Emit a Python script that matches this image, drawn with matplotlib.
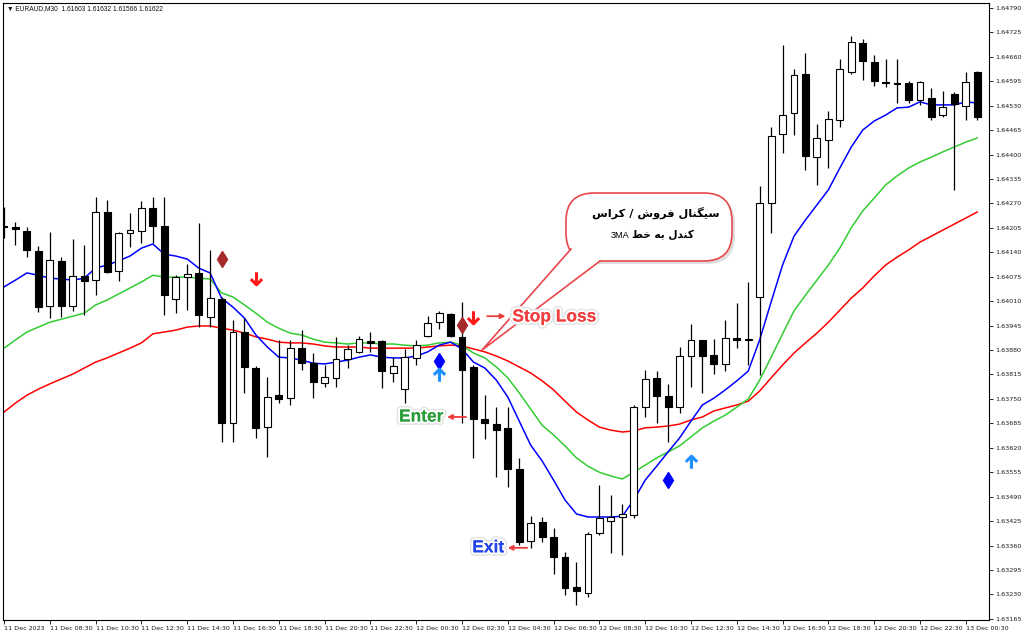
import numpy as np
import matplotlib
matplotlib.use("Agg")
import matplotlib.pyplot as plt
from matplotlib.patches import FancyBboxPatch, Polygon
from matplotlib.path import Path
import matplotlib.patheffects as pe

#%%==============================================================================
# Data (one row per candle, oldest first)

open_ = [1.64210, 1.64207, 1.64196, 1.64143, 1.63997, 1.64117, 1.63997, 1.64077, 1.64066, 1.64247,
         1.64090, 1.64191, 1.64196, 1.64258, 1.64210, 1.64016, 1.64074, 1.64085, 1.63968, 1.64016,
         1.63686, 1.63928, 1.63832, 1.63675, 1.63760, 1.63752, 1.63885, 1.63845, 1.63792, 1.63806,
         1.63856, 1.63875, 1.63904, 1.63904, 1.63819, 1.63776, 1.63859, 1.63917, 1.63954, 1.63976,
         1.63915, 1.63835, 1.63696, 1.63683, 1.63673, 1.63563, 1.63372, 1.63422, 1.63383, 1.63329,
         1.63250, 1.63234, 1.63393, 1.63425, 1.63436, 1.63441, 1.63728, 1.63806, 1.63758, 1.63728,
         1.63864, 1.63907, 1.63867, 1.63843, 1.63912, 1.63909, 1.64021, 1.64271, 1.64455, 1.64510,
         1.64614, 1.64393, 1.64439, 1.64492, 1.64619, 1.64697, 1.64646, 1.64593, 1.64590, 1.64590,
         1.64545, 1.64550, 1.64505, 1.64561, 1.64529, 1.64619]
high = [1.64260, 1.64220, 1.64207, 1.64157, 1.64194, 1.64127, 1.64175, 1.64159, 1.64287, 1.64279,
        1.64194, 1.64244, 1.64276, 1.64287, 1.64287, 1.64079, 1.64109, 1.64218, 1.64146, 1.64021,
        1.63960, 1.63965, 1.63837, 1.63808, 1.63907, 1.63907, 1.63933, 1.63872, 1.63840, 1.63915,
        1.63893, 1.63917, 1.63928, 1.63907, 1.63861, 1.63883, 1.63907, 1.63970, 1.63984, 1.63978,
        1.64008, 1.63840, 1.63760, 1.63728, 1.63728, 1.63593, 1.63438, 1.63436, 1.63406, 1.63343,
        1.63316, 1.63396, 1.63521, 1.63494, 1.63470, 1.63734, 1.63827, 1.63824, 1.63790, 1.63888,
        1.63949, 1.63907, 1.63909, 1.63960, 1.64005, 1.64061, 1.64316, 1.64473, 1.64691, 1.64627,
        1.64670, 1.64481, 1.64516, 1.64654, 1.64715, 1.64707, 1.64665, 1.64654, 1.64654, 1.64595,
        1.64595, 1.64577, 1.64569, 1.64566, 1.64619, 1.64622]
low = [1.64178, 1.64159, 1.64127, 1.63981, 1.63965, 1.63968, 1.63984, 1.63973, 1.64026, 1.64085,
       1.64063, 1.64154, 1.64165, 1.64165, 1.63973, 1.63978, 1.63986, 1.63941, 1.63941, 1.63635,
       1.63635, 1.63766, 1.63646, 1.63595, 1.63739, 1.63734, 1.63827, 1.63752, 1.63782, 1.63782,
       1.63832, 1.63872, 1.63875, 1.63779, 1.63795, 1.63739, 1.63840, 1.63915, 1.63936, 1.63915,
       1.63686, 1.63593, 1.63643, 1.63542, 1.63516, 1.63361, 1.63353, 1.63369, 1.63284, 1.63228,
       1.63202, 1.63223, 1.63388, 1.63340, 1.63335, 1.63433, 1.63702, 1.63686, 1.63635, 1.63712,
       1.63782, 1.63766, 1.63816, 1.63824, 1.63885, 1.63840, 1.63813, 1.64191, 1.64404, 1.64452,
       1.64359, 1.64319, 1.64364, 1.64473, 1.64614, 1.64598, 1.64582, 1.64580, 1.64537, 1.64537,
       1.64532, 1.64492, 1.64500, 1.64306, 1.64492, 1.64492]
close = [1.64207, 1.64202, 1.64146, 1.63994, 1.64119, 1.63997, 1.64077, 1.64063, 1.64247, 1.64087,
         1.64191, 1.64199, 1.64258, 1.64210, 1.64026, 1.64074, 1.64082, 1.63973, 1.64018, 1.63686,
         1.63928, 1.63835, 1.63673, 1.63755, 1.63750, 1.63885, 1.63845, 1.63795, 1.63808, 1.63856,
         1.63883, 1.63909, 1.63899, 1.63824, 1.63837, 1.63861, 1.63893, 1.63952, 1.63978, 1.63917,
         1.63827, 1.63696, 1.63686, 1.63667, 1.63563, 1.63369, 1.63420, 1.63383, 1.63329, 1.63247,
         1.63239, 1.63391, 1.63433, 1.63436, 1.63444, 1.63728, 1.63803, 1.63758, 1.63728, 1.63864,
         1.63907, 1.63864, 1.63843, 1.63912, 1.63907, 1.63907, 1.64271, 1.64449, 1.64505, 1.64611,
         1.64396, 1.64444, 1.64494, 1.64627, 1.64699, 1.64649, 1.64595, 1.64590, 1.64588, 1.64545,
         1.64593, 1.64500, 1.64526, 1.64534, 1.64593, 1.64500]

ma_fast = [1.64048, 1.64066, 1.64085, 1.64079, 1.64071, 1.64069, 1.64066, 1.64071, 1.64098, 1.64106,
           1.64117, 1.64130, 1.64151, 1.64162, 1.64135, 1.64130, 1.64122, 1.64098, 1.64085, 1.64018,
           1.63994, 1.63965, 1.63920, 1.63888, 1.63861, 1.63859, 1.63853, 1.63845, 1.63843, 1.63848,
           1.63853, 1.63861, 1.63867, 1.63861, 1.63859, 1.63859, 1.63864, 1.63875, 1.63893, 1.63901,
           1.63883, 1.63848, 1.63832, 1.63800, 1.63755, 1.63691, 1.63627, 1.63585, 1.63534, 1.63481,
           1.63444, 1.63436, 1.63436, 1.63436, 1.63438, 1.63481, 1.63534, 1.63571, 1.63609, 1.63646,
           1.63691, 1.63734, 1.63752, 1.63774, 1.63798, 1.63824, 1.63907, 1.64008, 1.64106, 1.64183,
           1.64226, 1.64266, 1.64306, 1.64364, 1.64420, 1.64465, 1.64489, 1.64505, 1.64524, 1.64526,
           1.64540, 1.64532, 1.64532, 1.64532, 1.64540, 1.64537]
ma_mid = [1.63885, 1.63907, 1.63928, 1.63941, 1.63954, 1.63962, 1.63970, 1.63978, 1.64000, 1.64013,
          1.64029, 1.64045, 1.64061, 1.64079, 1.64074, 1.64074, 1.64074, 1.64071, 1.64069, 1.64032,
          1.64021, 1.64000, 1.63978, 1.63954, 1.63938, 1.63925, 1.63920, 1.63909, 1.63901, 1.63899,
          1.63896, 1.63899, 1.63899, 1.63896, 1.63896, 1.63893, 1.63891, 1.63893, 1.63899, 1.63901,
          1.63893, 1.63872, 1.63859, 1.63835, 1.63806, 1.63766, 1.63723, 1.63680, 1.63654, 1.63625,
          1.63593, 1.63571, 1.63555, 1.63545, 1.63537, 1.63555, 1.63574, 1.63593, 1.63609, 1.63625,
          1.63649, 1.63673, 1.63691, 1.63707, 1.63728, 1.63750, 1.63800, 1.63861, 1.63923, 1.63984,
          1.64026, 1.64066, 1.64106, 1.64151, 1.64205, 1.64250, 1.64284, 1.64319, 1.64343, 1.64364,
          1.64380, 1.64393, 1.64407, 1.64420, 1.64433, 1.64444]
ma_slow = [1.63715, 1.63739, 1.63760, 1.63776, 1.63790, 1.63803, 1.63816, 1.63832, 1.63848, 1.63859,
           1.63872, 1.63885, 1.63899, 1.63923, 1.63928, 1.63933, 1.63941, 1.63944, 1.63944, 1.63938,
           1.63933, 1.63925, 1.63915, 1.63909, 1.63901, 1.63899, 1.63899, 1.63896, 1.63891, 1.63888,
           1.63888, 1.63888, 1.63885, 1.63885, 1.63885, 1.63885, 1.63885, 1.63888, 1.63891, 1.63893,
           1.63891, 1.63883, 1.63875, 1.63864, 1.63851, 1.63835, 1.63819, 1.63798, 1.63774, 1.63744,
           1.63715, 1.63694, 1.63675, 1.63667, 1.63662, 1.63665, 1.63673, 1.63675, 1.63678, 1.63683,
           1.63694, 1.63702, 1.63718, 1.63726, 1.63734, 1.63744, 1.63771, 1.63806, 1.63840, 1.63872,
           1.63899, 1.63925, 1.63954, 1.63986, 1.64018, 1.64045, 1.64077, 1.64106, 1.64127, 1.64146,
           1.64167, 1.64183, 1.64199, 1.64215, 1.64231, 1.64247]

# signal markers (candle index, price)
sell_dia_x = [19, 40]
sell_dia_y = [1.64122, 1.63947]
sell_arr_x = [22, 41]
sell_arr_y = [1.64072, 1.63968]
buy_dia_x = [38, 58]
buy_dia_y = [1.63851, 1.63535]
buy_arr_x = [38, 60]
buy_arr_y = [1.63814, 1.63582]

date_labels = ["11 Dec 2023", "11 Dec 08:30", "11 Dec 10:30", "11 Dec 12:30", "11 Dec 14:30",
               "11 Dec 16:30", "11 Dec 18:30", "11 Dec 20:30", "11 Dec 22:30", "12 Dec 00:30",
               "12 Dec 02:30", "12 Dec 04:30", "12 Dec 06:30", "12 Dec 08:30", "12 Dec 10:30",
               "12 Dec 12:30", "12 Dec 14:30", "12 Dec 16:30", "12 Dec 18:30", "12 Dec 20:30",
               "12 Dec 22:30", "13 Dec 00:30"]
price_ticks = [1.63165 + 0.00065 * k for k in range(26)]

header = "\u25BC EURAUD,M30  1.61603 1.61632 1.61566 1.61622"
callout_l1 = "سیگنال فروش / کراس"
callout_l2 = "کندل به خط"
callout_tag = "3MA"

#%%==============================================================================
# tiny persian shaper (matplotlib does no arabic shaping / bidi)

FORMS = {  # isol, fina, init, medi
    'ا': (0xFE8D, 0xFE8E, None, None), 'د': (0xFEA9, 0xFEAA, None, None),
    'ر': (0xFEAD, 0xFEAE, None, None), 'و': (0xFEED, 0xFEEE, None, None),
    'ب': (0xFE8F, 0xFE90, 0xFE91, 0xFE92), 'خ': (0xFEA5, 0xFEA6, 0xFEA7, 0xFEA8),
    'س': (0xFEB1, 0xFEB2, 0xFEB3, 0xFEB4), 'ش': (0xFEB5, 0xFEB6, 0xFEB7, 0xFEB8),
    'ط': (0xFEC1, 0xFEC2, 0xFEC3, 0xFEC4), 'ف': (0xFED1, 0xFED2, 0xFED3, 0xFED4),
    'ل': (0xFEDD, 0xFEDE, 0xFEDF, 0xFEE0), 'ن': (0xFEE5, 0xFEE6, 0xFEE7, 0xFEE8),
    'ه': (0xFEE9, 0xFEEA, 0xFEEB, 0xFEEC), 'ک': (0xFB8E, 0xFB8F, 0xFB90, 0xFB91),
    'گ': (0xFB92, 0xFB93, 0xFB94, 0xFB95), 'ی': (0xFBFC, 0xFBFD, 0xFBFE, 0xFBFF),
}


def shape_fa(txt):
    out = []
    for k, ch in enumerate(txt):
        if ch not in FORMS:
            out.append(ch)
            continue
        prv = txt[k - 1] if k > 0 else ''
        nxt = txt[k + 1] if k + 1 < len(txt) else ''
        jp = prv in FORMS and FORMS[prv][2] is not None
        jn = FORMS[ch][2] is not None and nxt in FORMS
        form = 3 if (jp and jn) else 1 if jp else 2 if jn else 0
        out.append(chr(FORMS[ch][form]))
    return ''.join(reversed(out))


#%%==============================================================================
# Figure

W, H = 1024, 639
fig = plt.figure(figsize=(W / 100, H / 100), dpi=100, facecolor='white')
ax = fig.add_axes([3 / W, 1 - 620 / H, 986 / W, 617 / H])
ax.set_facecolor('white')

n = len(open_)
x = np.arange(n)
o = np.array(open_); c = np.array(close)
up = c >= o

ax.plot(x, ma_slow, color='#ff0000', lw=1.1, zorder=2)
ax.plot(x, ma_mid, color='#33cc33', lw=1.1, zorder=2)
ax.plot(x, ma_fast, color='#0000ff', lw=1.1, zorder=2)

ax.vlines(x, low, high, color='black', lw=0.9, zorder=3)
bw = 0.6
ax.bar(x[up], (c - o)[up], bottom=o[up], width=bw, facecolor='white', edgecolor='black', lw=0.8, zorder=4)
ax.bar(x[~up], (o - c)[~up], bottom=c[~up], width=bw, facecolor='black', edgecolor='black', lw=0.8, zorder=4)

# arrow markers (wingdings-like)
down_arrow = Path([(0, 1), (0, -1), (-0.9, -0.1), (0, -1), (0.9, -0.1)],
                  [Path.MOVETO, Path.LINETO, Path.MOVETO, Path.LINETO, Path.LINETO])
up_arrow = Path([(0, -1), (0, 1), (-0.9, 0.1), (0, 1), (0.9, 0.1)],
                [Path.MOVETO, Path.LINETO, Path.MOVETO, Path.LINETO, Path.LINETO])

ax.plot(sell_dia_x, sell_dia_y, ls='none', marker='d', ms=8, color='#a52a2a', zorder=5)
ax.plot(sell_arr_x, sell_arr_y, ls='none', marker=down_arrow, ms=9, mew=2.2, mfc='none', color='#ff1a1a', zorder=5)
ax.plot(buy_dia_x, buy_dia_y, ls='none', marker='d', ms=8, color='#0000ff', zorder=5)
ax.plot(buy_arr_x, buy_arr_y, ls='none', marker=up_arrow, ms=9, mew=2.2, mfc='none', color='#1e90ff', zorder=5)

# axes styling, MT4 look
ax.set_xlim(-0.09, 86.03)
ax.set_ylim(1.63162, 1.64803)
ax.yaxis.tick_right()
ax.set_yticks(price_ticks)
ax.set_yticklabels(['%.5f' % p for p in price_ticks])
ax.set_xticks(range(0, 4 * len(date_labels), 4))
ax.set_xticklabels(date_labels)
for lbl in ax.get_xticklabels():
    lbl.set_ha('left')
ax.tick_params(axis='both', direction='out', length=3, width=0.6, pad=1.5, labelsize=4.6,
               labelcolor='#1a1a1a')
for s in ax.spines.values():
    s.set_linewidth(0.8)
    s.set_color('black')

#%%==============================================================================
# Overlay in pixel coords: header, callout bubble, labels (labels sit on top of the tail)

ov = fig.add_axes([0, 0, 1, 1], zorder=10)
ov.set_xlim(0, W)
ov.set_ylim(H, 0)
ov.axis('off')
ov.patch.set_alpha(0)

ov.text(7, 9, header, fontsize=4.8, va='center', ha='left', color='#101010',
        family=['Liberation Sans', 'DejaVu Sans'])

tip = ov.transData.inverted().transform(ax.transData.transform((41.75, 1.63880)))
bx, by, bwid, bht, rad = 566, 193, 166, 68, 28
ov.add_patch(FancyBboxPatch((bx + 3, by + 3), bwid, bht, boxstyle='round,pad=0,rounding_size=%d' % rad,
                            fc='#d0d0d0', ec='none', alpha=0.7, zorder=1))
ov.add_patch(FancyBboxPatch((bx, by), bwid, bht, boxstyle='round,pad=0,rounding_size=%d' % rad,
                            fc='white', ec='#e8474c', lw=1.2, zorder=2))
b1, b2 = (571, 249), (600, by + bht)
ov.add_patch(Polygon([b1, tip, b2, (592, 255), (574, 246)], closed=True, fc='white', ec='none', zorder=3))
ov.plot([b1[0], tip[0], b2[0]], [b1[1], tip[1], b2[1]], color='#e8474c', lw=1.2, zorder=4)

fa_font = ['DejaVu Sans']
ov.text(656, 213, shape_fa(callout_l1), ha='center', va='center', fontsize=8.2, fontweight='bold',
        family=fa_font, color='black', zorder=5)
t2 = ov.text(694, 235, shape_fa(callout_l2), ha='right', va='center', fontsize=7.6, fontweight='bold',
             family=fa_font, color='black', zorder=5)
w2 = t2.get_window_extent(renderer=fig.canvas.get_renderer()).width
ov.text(694 - w2 - 3, 236, callout_tag, ha='right', va='center', fontsize=6.6,
        family=['Liberation Sans'], color='black', zorder=5)

halo = [pe.withStroke(linewidth=5, foreground='#e2e2e2'), pe.withStroke(linewidth=3, foreground='white'), pe.Normal()]
lab_kw = dict(ha='left', va='center', fontsize=12.5, fontweight='bold', family='Liberation Sans', zorder=7,
              path_effects=halo, transform=ax.transData)
ov.text(44.4, 1.63968, 'Stop Loss', color='#f04040', **lab_kw)
ov.text(34.5, 1.63702, 'Enter', color='#2a9d3a', **lab_kw)
ov.text(40.9, 1.63354, 'Exit', color='#2445e8', **lab_kw)
akw = dict(arrowstyle='-|>', color='#ee3b3b', lw=1.3, mutation_scale=7, shrinkA=0, shrinkB=0)
ax.annotate('', xy=(43.8, 1.63970), xytext=(42.2, 1.63970), arrowprops=akw, zorder=7)
ax.annotate('', xy=(38.7, 1.63702), xytext=(40.35, 1.63702), arrowprops=akw, zorder=7)
ax.annotate('', xy=(44.0, 1.63354), xytext=(45.7, 1.63354), arrowprops=akw, zorder=7)

fig.savefig('out.png', dpi=100, facecolor='white')
